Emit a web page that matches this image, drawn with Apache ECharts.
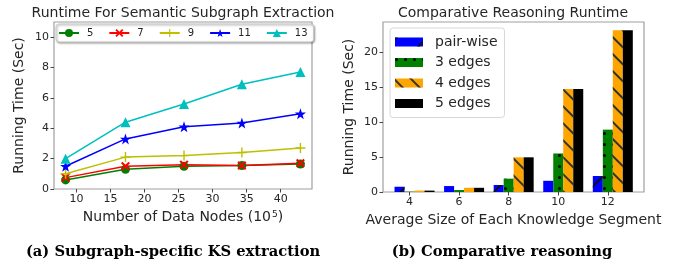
<!DOCTYPE html>
<html><head><meta charset="utf-8">
<script src="https://cdn.jsdelivr.net/npm/echarts@6/dist/echarts.min.js"></script>
<style>html,body{margin:0;padding:0;background:#fff}#c{width:680px;height:264px}</style>
</head><body><div id="c"></div>
<script>
// ---- Data: left chart (runtime vs number of data nodes, 10^5) ----
const nodeCounts = [8.4, 17.2, 25.8, 34.3, 42.9];
const lineNames = ['5', '7', '9', '11', '13'];
const run5  = [0.6, 1.3, 1.5, 1.55, 1.65];
const run7  = [0.75, 1.5, 1.6, 1.55, 1.7];
const run9  = [1.0, 2.1, 2.2, 2.4, 2.7];
const run11 = [1.5, 3.3, 4.1, 4.35, 4.95];
const run13 = [2.0, 4.4, 5.6, 6.9, 7.7];
const leftYTicks = [0, 2, 4, 6, 8, 10];
const leftXTicks = [10, 15, 20, 25, 30, 35, 40];

// ---- Data: right chart (comparative reasoning runtime) ----
const segSizes = [4, 6, 8, 10, 12];
const barNames = ['pair-wise', '3 edges', '4 edges', '5 edges'];
const pairWise = [0.75, 0.85, 1.0, 1.6, 2.28];
const edges3   = [0.05, 0.28, 1.9, 5.5, 8.9];
const edges4   = [0.2, 0.6, 4.95, 14.7, 23.1];
const edges5   = [0.2, 0.6, 4.95, 14.7, 23.1];
const rightYTicks = [0, 5, 10, 15, 20];

const FONT = 'DejaVu Sans';
const TXT = '#262626';
const pair = (xs, ys) => xs.map((x, i) => [x, ys[i]]);

const STAR = 'path://M50,0L61.8,35.1L97.6,35.1L68.8,56.7L79.4,91L50,70L20.6,91L31.2,56.7L2.4,35.1L38.2,35.1Z';
const XMARK = 'path://M0,1.6L1.6,0L5,3.4L8.4,0L10,1.6L6.6,5L10,8.4L8.4,10L5,6.6L1.6,10L0,8.4L3.4,5Z';
const PLUS = 'path://M4.3,0H5.7V4.3H10V5.7H5.7V10H4.3V5.7H0V4.3H4.3Z';

function lineSeries(name, data, color, symbol, size) {
  return {
    type: 'line', name, xAxisIndex: 0, yAxisIndex: 0,
    data: pair(nodeCounts, data),
    symbol, symbolSize: size, showSymbol: true,
    lineStyle: { color, width: 1.5 },
    itemStyle: { color, borderColor: color, borderWidth: 0, opacity: 1 },
    emphasis: { disabled: true }, animation: false, z: 3
  };
}

const barColors = ['#0000ff', '#008000', '#ffa500', '#000000'];
const decals = [
  { symbol: 'rect', symbolSize: 1, color: '#111', dashArrayX: [1, 0], dashArrayY: [1.2, 20], rotation: -Math.PI / 4 },
  { symbol: 'circle', symbolSize: 1, color: '#000', dashArrayX: [2.2, 6], dashArrayY: [2.2, 7.5], rotation: 0 },
  { symbol: 'rect', symbolSize: 1, color: '#333', dashArrayX: [1, 0], dashArrayY: [1.2, 10], rotation: Math.PI / 4 },
  null
];
const barData = [pairWise, edges3, edges4, edges5];

function barSeries(i) {
  const st = { color: barColors[i] };
  if (decals[i]) st.decal = decals[i];
  return {
    type: 'bar', name: barNames[i], xAxisIndex: 1, yAxisIndex: 1,
    data: pair(segSizes, barData[i]),
    barWidth: 10, barGap: '0%', itemStyle: st,
    emphasis: { disabled: true }, animation: false
  };
}

const axisLabelStyle = { color: TXT, fontFamily: FONT, fontSize: 11 };
const tickStyle = { show: true, length: 3.5, lineStyle: { color: '#444', width: 1 } };
const nameStyle = { color: TXT, fontFamily: FONT, fontSize: 14 };

const option = {
  animation: false,
  textStyle: { fontFamily: FONT },
  grid: [
    { left: 54, right: 368, top: 22, bottom: 75, show: true, borderColor: '#a0a0a0', borderWidth: 1.2, backgroundColor: '#fff' },
    { left: 383, right: 36, top: 22, bottom: 72, show: true, borderColor: '#a0a0a0', borderWidth: 1.2, backgroundColor: '#fff' }
  ],
  xAxis: [
    { type: 'value', gridIndex: 0, min: 6.7, max: 44.6,
      axisLine: { show: false }, splitLine: { show: false },
      axisTick: Object.assign({ customValues: leftXTicks }, tickStyle),
      axisLabel: Object.assign({ customValues: leftXTicks, margin: 5 }, axisLabelStyle),
      name: 'Number of Data Nodes (10{sup|5})', nameLocation: 'middle', nameGap: 21,
      nameTextStyle: Object.assign({
        rich: { sup: { fontSize: 9, verticalAlign: 'top', lineHeight: 9, padding: [0, 0, 7, 1], color: TXT, fontFamily: FONT } } }, nameStyle) },
    { type: 'value', gridIndex: 1, min: 2.93, max: 13.46,
      axisLine: { show: false }, splitLine: { show: false },
      axisTick: Object.assign({ customValues: segSizes }, tickStyle),
      axisLabel: Object.assign({ customValues: segSizes, margin: 5 }, axisLabelStyle),
      name: 'Average Size of Each Knowledge Segment', nameLocation: 'middle', nameGap: 19,
      nameTextStyle: nameStyle }
  ],
  yAxis: [
    { type: 'value', gridIndex: 0, min: 0, max: 11,
      axisLine: { show: false }, splitLine: { show: false },
      axisTick: Object.assign({ customValues: leftYTicks }, tickStyle),
      axisLabel: Object.assign({ customValues: leftYTicks, margin: 5 }, axisLabelStyle),
      name: 'Running Time (Sec)', nameLocation: 'middle', nameGap: 28,
      nameTextStyle: nameStyle },
    { type: 'value', gridIndex: 1, min: 0, max: 24.26,
      axisLine: { show: false }, splitLine: { show: false },
      axisTick: Object.assign({ customValues: rightYTicks }, tickStyle),
      axisLabel: Object.assign({ customValues: rightYTicks, margin: 5 }, axisLabelStyle),
      name: 'Running Time (Sec)', nameLocation: 'middle', nameGap: 27,
      nameTextStyle: nameStyle }
  ],
  legend: [
    { data: lineNames, left: 56, top: 24, orient: 'horizontal', itemWidth: 20, itemHeight: 10, itemGap: 15,
      padding: [4, 6, 4, 2], backgroundColor: '#fff', borderColor: '#c8c8c8', borderWidth: 1, borderRadius: 3,
      shadowColor: 'rgba(0,0,0,0.35)', shadowBlur: 2, shadowOffsetX: 1, shadowOffsetY: 1,
      textStyle: { fontFamily: FONT, fontSize: 10, color: TXT, padding: [0, 0, 0, 3] }, selectedMode: false },
    { data: barNames, left: 390, top: 28, orient: 'vertical', itemWidth: 28, itemHeight: 9, itemGap: 6.5,
      icon: 'rect',
      padding: [7, 7, 7, 5], backgroundColor: '#fff', borderColor: '#d8d8d8', borderWidth: 1, borderRadius: 3,
      textStyle: { fontFamily: FONT, fontSize: 14, color: TXT, padding: [0, 0, 0, 7] }, selectedMode: false }
  ],
  series: [
    lineSeries('5', run5, '#008000', 'circle', 9),
    lineSeries('7', run7, '#ff0000', XMARK, 9),
    lineSeries('9', run9, '#bfbf00', PLUS, 10),
    lineSeries('11', run11, '#0000ff', STAR, 11),
    lineSeries('13', run13, '#00bfbf', 'triangle', 10),
    { type: 'bar', name: '_offset', xAxisIndex: 1, yAxisIndex: 1, data: [], barWidth: 10, barGap: '0%', animation: false },
    barSeries(0), barSeries(1), barSeries(2), barSeries(3)
  ],
  graphic: [
    { type: 'text', x: 183, y: 13, style: { text: 'Runtime For Semantic Subgraph Extraction', font: '14px "DejaVu Sans"', fill: TXT, textAlign: 'center', textVerticalAlign: 'middle' } },
    { type: 'text', x: 513, y: 13, style: { text: 'Comparative Reasoning Runtime', font: '14px "DejaVu Sans"', fill: TXT, textAlign: 'center', textVerticalAlign: 'middle' } },
    { type: 'text', x: 173, y: 252, style: { text: '(a) Subgraph-specific KS extraction', font: 'bold 14.7px "DejaVu Serif"', fill: '#000', textAlign: 'center', textVerticalAlign: 'middle' } },
    { type: 'text', x: 502, y: 252, style: { text: '(b) Comparative reasoning', font: 'bold 14.7px "DejaVu Serif"', fill: '#000', textAlign: 'center', textVerticalAlign: 'middle' } }
  ]
};
const chart = echarts.init(document.getElementById('c'), null, { renderer: 'canvas' });
chart.setOption(option);
</script></body></html>
